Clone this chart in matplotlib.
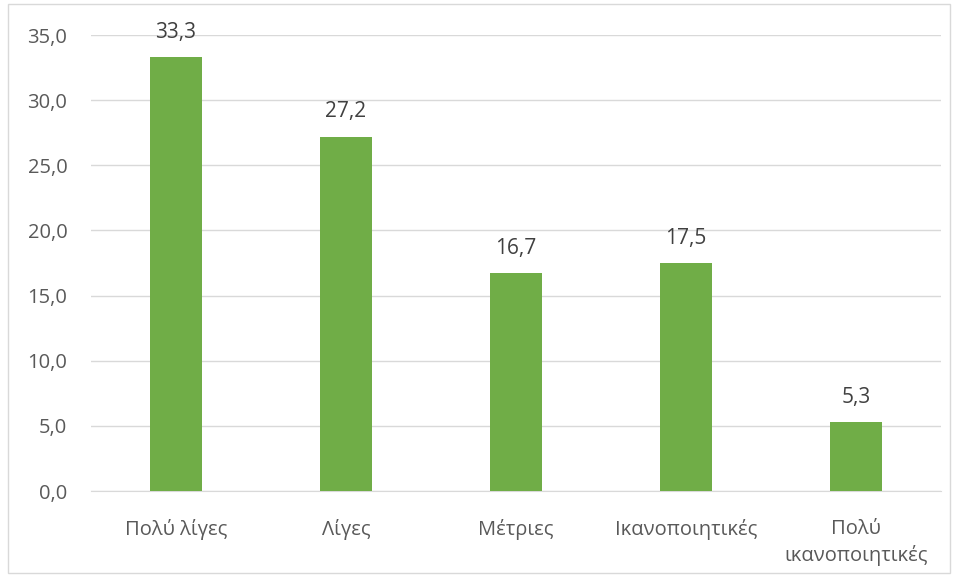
import matplotlib
matplotlib.use("Agg")
import matplotlib.pyplot as plt
from matplotlib.patches import Rectangle

categories = ["Πολύ λίγες", "Λίγες", "Μέτριες", "Ικανοποιητικές", "Πολύ\nικανοποιητικές"]
values = [33.3, 27.2, 16.7, 17.5, 5.3]
yticks = [0, 5, 10, 15, 20, 25, 30, 35]

plt.rcParams['font.family'] = ['Open Sans', 'DejaVu Sans']
W, H = 956, 577
fig = plt.figure(figsize=(W/100, H/100), dpi=100)
fig.patches.append(Rectangle((8/W, 4/H), 942/W, 569/H, transform=fig.transFigure,
                             fill=False, edgecolor="#d9d9d9", linewidth=1))
ax = fig.add_axes([91/W, 1-491/H, 850/W, (491-35)/H])
x = range(len(categories))
bars = ax.bar(x, values, width=0.31, color="#70AD47", zorder=3)
for xi, v in zip(x, values):
    ax.text(xi, v + 1.1, f"{v:.1f}".replace(".", ","), ha="center", va="bottom",
            fontsize=15, color="#404040")
ax.set_xlim(-0.5, len(categories) - 0.5)
ax.set_ylim(0, 35)
ax.set_yticks(yticks)
ax.set_yticklabels([f"{t:.1f}".replace(".", ",") for t in yticks], fontsize=14.5, color="#595959")
ax.set_xticks(list(x))
ax.set_xticklabels(categories, fontsize=14.5, color="#595959", linespacing=1.4)
ax.tick_params(length=0)
ax.tick_params(axis='x', pad=20)
ax.tick_params(axis='y', pad=17)
ax.grid(axis='y', color="#d9d9d9", linewidth=1, zorder=0)
for s in ["top", "right", "left"]:
    ax.spines[s].set_visible(False)
ax.spines["bottom"].set_color("#d9d9d9")
fig.savefig("out.png", dpi=100)
